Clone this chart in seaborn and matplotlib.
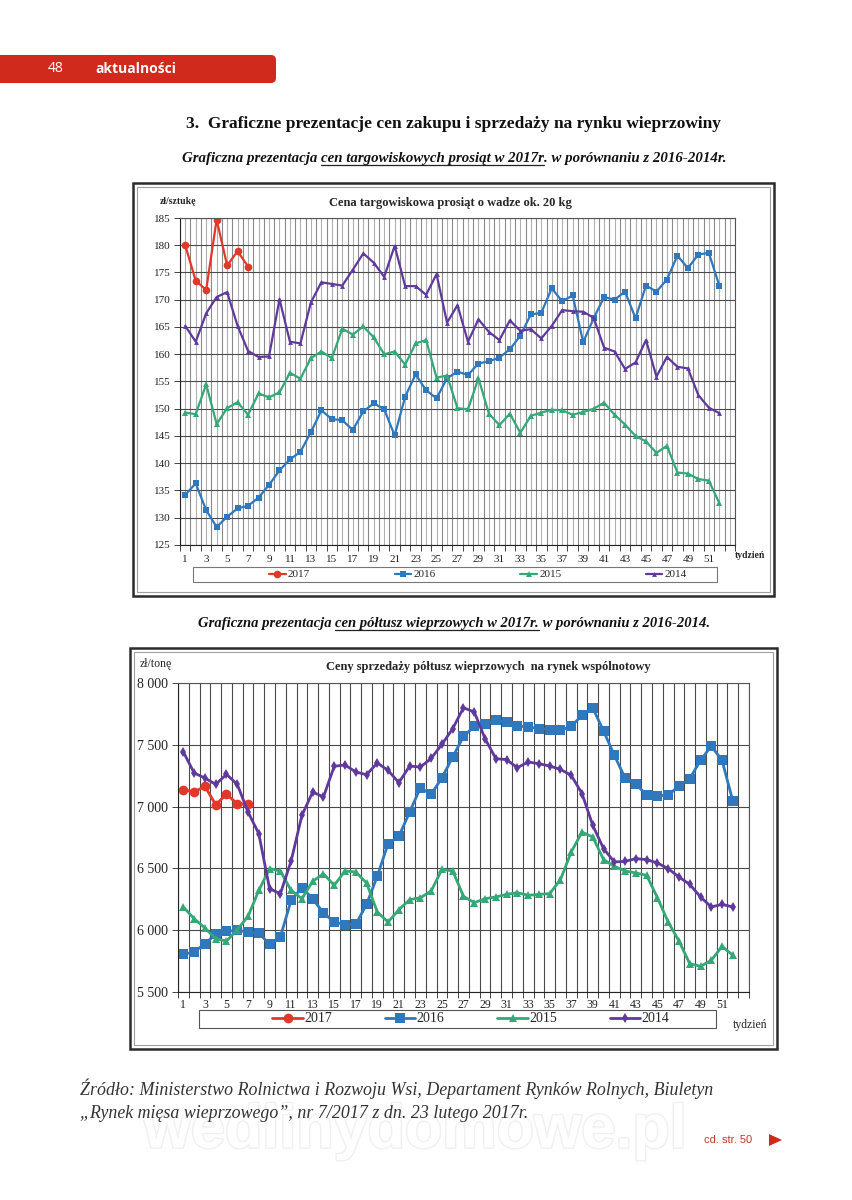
import numpy as np
import matplotlib
matplotlib.use("Agg")
import matplotlib.pyplot as plt
import matplotlib.patches as mpatches
import matplotlib.transforms as mtransforms
from matplotlib.lines import Line2D
from matplotlib import patheffects
import seaborn as sns

# ## data ======================================================================
weeks = list(range(1, 53))
years = ['2017', '2016', '2015', '2014']

# cena targowiskowa prosiąt (zł/sztukę)
pig_2017 = [180.0, 173.5, 171.8, 184.7, 176.3, 178.9, 176.1]
pig_2016 = [134.2, 136.3, 131.4, 128.3, 130.2, 131.7, 132.2, 133.7, 136.0, 138.7,
            140.7, 142.1, 145.7, 149.7, 148.1, 147.9, 146.1, 149.5, 151.0, 149.9,
            145.1, 152.2, 156.3, 153.4, 151.9, 155.6, 156.8, 156.2, 158.3, 158.7,
            159.4, 160.9, 163.4, 167.3, 167.6, 172.1, 169.7, 170.8, 162.2, 166.6,
            170.5, 170.0, 171.5, 166.6, 172.6, 171.5, 173.7, 178.1, 175.8, 178.3,
            178.6, 172.6]
pig_2015 = [149.3, 149.0, 154.5, 147.2, 150.1, 151.2, 148.9, 152.8, 152.1, 153.0,
            156.6, 155.5, 159.3, 160.5, 159.3, 164.7, 163.6, 165.1, 163.1, 160.0,
            160.5, 158.1, 162.0, 162.6, 155.7, 156.1, 150.1, 149.9, 155.6, 149.1,
            147.0, 149.1, 145.6, 148.7, 149.3, 149.8, 149.7, 148.9, 149.4, 150.0,
            151.1, 148.9, 147.1, 145.0, 144.0, 141.9, 143.2, 138.3, 138.1, 137.1,
            136.8, 132.7]
pig_2014 = [165.2, 162.3, 167.5, 170.5, 171.4, 165.2, 160.6, 159.5, 159.6, 170.1,
            162.3, 162.0, 169.5, 173.2, 172.9, 172.6, 175.5, 178.5, 176.8, 174.2,
            179.9, 172.5, 172.5, 170.9, 174.7, 165.8, 169.0, 162.3, 166.4, 164.1,
            162.6, 166.2, 164.3, 164.6, 162.9, 165.2, 168.1, 167.9, 167.8, 166.7,
            161.2, 160.5, 157.3, 158.5, 162.6, 155.9, 159.5, 157.7, 157.4, 152.5,
            150.2, 149.2]

# ceny półtusz wieprzowych (zł/tonę)
half_2017 = [7137, 7118, 7164, 7016, 7099, 7024, 7018]
half_2016 = [5805, 5824, 5891, 5967, 5991, 5999, 5985, 5977, 5886, 5945,
             6242, 6344, 6255, 6139, 6066, 6045, 6047, 6209, 6438, 6700,
             6759, 6956, 7153, 7099, 7234, 7401, 7568, 7649, 7671, 7698,
             7684, 7652, 7644, 7631, 7622, 7617, 7649, 7738, 7798, 7612,
             7415, 7231, 7180, 7096, 7086, 7096, 7164, 7226, 7374, 7490,
             7374, 7045]
half_2015 = [6188, 6093, 6018, 5931, 5912, 6004, 6112, 6322, 6498, 6479,
             6322, 6255, 6395, 6457, 6363, 6479, 6471, 6382, 6147, 6066,
             6166, 6247, 6263, 6317, 6492, 6479, 6274, 6223, 6255, 6269,
             6290, 6304, 6282, 6290, 6296, 6409, 6633, 6794, 6754, 6571,
             6517, 6479, 6463, 6444, 6263, 6066, 5912, 5729, 5708, 5756,
             5869, 5797]
half_2014 = [7442, 7272, 7231, 7180, 7261, 7180, 6956, 6781, 6336, 6295,
             6560, 6929, 7118, 7078, 7326, 7337, 7280, 7258, 7353, 7293,
             7194, 7328, 7320, 7390, 7504, 7631, 7800, 7765, 7550, 7388,
             7380, 7315, 7361, 7347, 7328, 7301, 7253, 7105, 6848, 6660,
             6552, 6557, 6579, 6571, 6544, 6498, 6430, 6371, 6269, 6188,
             6209, 6188]

# ## style =====================================================================
sns.set_theme(style='white')
plt.rcParams['font.family'] = ['Liberation Serif', 'DejaVu Serif']

colors = {'2017': '#E2382A', '2016': '#2F78BE', '2015': '#35A878', '2014': '#5F3A9C'}
W, H = 853, 1200
fig = plt.figure(figsize=(W / 100, H / 100), dpi=100)
fig.patch.set_facecolor('white')
renderer = fig.canvas.get_renderer()


def fx(x):
    return x / W


def fy(y):
    return 1 - y / H


def tw(s, **kw):
    # width of a text in pixels (trailing spaces included)
    t1 = fig.text(0, 0, '|' + s + '|', **kw)
    t2 = fig.text(0, 0, '||', **kw)
    w = t1.get_window_extent(renderer).width - t2.get_window_extent(renderer).width
    t1.remove(); t2.remove()
    return w


def rich_line(parts, cx, y, **kw):
    widths = [tw(s, **kw) for s, _ in parts]
    x = cx - sum(widths) / 2
    for (s, ul), w in zip(parts, widths):
        fig.text(fx(x), fy(y), s, va='baseline', ha='left', **kw)
        if ul:
            fig.add_artist(Line2D([fx(x), fx(x + w)], [fy(y + 2.5), fy(y + 2.5)],
                                  color='#222222', lw=0.9))
        x += w


def frame(x0, y0, x1, y1):
    fig.add_artist(mpatches.Rectangle((fx(x0), fy(y1)), fx(x1 - x0), (y1 - y0) / H,
                                      fill=False, ec='#2b2b2b', lw=1.8))
    fig.add_artist(mpatches.Rectangle((fx(x0 + 4), fy(y1 - 4)), fx(x1 - x0 - 8), (y1 - y0 - 8) / H,
                                      fill=False, ec='#a0a0a0', lw=0.8))


def setup_axes(ax, ylim, ystep, both_grid, label_size, xpad):
    ax.set_xlim(0.5, 53.5)
    ax.set_ylim(*ylim)
    ax.set_yticks(np.arange(ylim[0], ylim[1] + 1, ystep))
    ax.set_xticks(range(1, 54))
    ax.set_xticklabels([str(w) if w % 2 == 1 and w < 52 else '' for w in range(1, 54)])
    ax.set_xticks(np.arange(0.5, 54, 1.0), minor=True)
    ax.tick_params(axis='x', which='major', length=0, labelsize=label_size, pad=xpad, colors='#222222')
    ax.tick_params(axis='x', which='minor', length=4, width=0.7, color='#444444', bottom=True)
    ax.tick_params(axis='y', which='major', length=4, width=0.7, color='#444444', left=True,
                   labelsize=label_size + (1.5 if not both_grid else 0), colors='#222222', pad=3)
    ax.grid(axis='y', which='major', color='#4a4a4a', lw=0.8)
    ax.grid(axis='x', which='minor', color='#4a4a4a' if not both_grid else '#8a8a8a', lw=0.8)
    if both_grid:
        ax.grid(axis='x', which='major', color='#b0b0b0', lw=0.8)
    else:
        ax.grid(axis='x', which='major', visible=False)
    for sp in ax.spines.values():
        sp.set_color('#555555'); sp.set_linewidth(0.8)
    ax.spines['left'].set_color('#222222')
    ax.spines['bottom'].set_color('#222222')
    ax.set_xlabel(''); ax.set_ylabel('')
    ax.set_axisbelow(True)


# ## header ====================================================================
fig.add_artist(mpatches.FancyBboxPatch((-20, H - 83), 296, 28,
                                       boxstyle='round,pad=0,rounding_size=5',
                                       transform=mtransforms.IdentityTransform(),
                                       fc='#CF2A1C', ec='none'))
fig.text(fx(48), fy(69), '48', color='white', fontsize=10, family=['Open Sans', 'DejaVu Sans'],
         va='center', ha='left')
fig.text(fx(95), fy(69), 'aktualności', color='white', fontsize=10, fontweight='bold',
         family=['Open Sans', 'DejaVu Sans'], va='center', ha='left')

fig.text(fx(454), fy(128), '3.  Graficzne prezentacje cen zakupu i sprzedaży na rynku wieprzowiny',
         fontsize=12.5, fontweight='bold', ha='center', va='baseline', color='#111111')

rich_line([('Graficzna prezentacja ', False), ('cen targowiskowych prosiąt w 2017r', True),
           ('. w porównaniu z 2016-2014r.', False)],
          454, 162, fontsize=10.7, fontweight='bold', style='italic', color='#111111')

rich_line([('Graficzna prezentacja ', False), ('cen półtusz wieprzowych w 2017r.', True),
           (' w porównaniu z 2016-2014.', False)],
          454, 627, fontsize=10.5, fontweight='bold', style='italic', color='#111111')

# ## chart 1: prosięta ========================================================
frame(133, 183, 774, 596)
ax1 = fig.add_axes([fx(180), fy(545), fx(555), 327 / H])
pig = {'2017': pig_2017, '2016': pig_2016, '2015': pig_2015, '2014': pig_2014}
mk1 = {'2017': ('o', 5.5), '2016': ('s', 4.0), '2015': ('^', 4.0), '2014': ('^', 3.5)}
for yr in years:
    vals = pig[yr]
    sns.lineplot(x=weeks[:len(vals)], y=vals, ax=ax1, color=colors[yr], lw=1.6,
                 marker=mk1[yr][0], markersize=mk1[yr][1], markeredgewidth=0, legend=False)
setup_axes(ax1, (125, 185), 5, True, 8, 7)
ax1.tick_params(axis='y', labelsize=8)

fig.text(fx(160), fy(201), 'zł/sztukę', fontsize=7, fontweight='bold', va='center', ha='left')
fig.text(fx(450), fy(203), 'Cena targowiskowa prosiąt o wadze ok. 20 kg', fontsize=9,
         fontweight='bold', va='center', ha='center')
fig.text(fx(735), fy(556), 'tydzień', fontsize=7, fontweight='bold', va='center', ha='left')

fig.add_artist(mpatches.Rectangle((fx(193), fy(582)), fx(524), 15 / H, fill=False,
                                  ec='#777777', lw=0.8))
h1 = [Line2D([], [], color=colors[yr], lw=1.6, marker=mk1[yr][0], markersize=mk1[yr][1],
             markeredgewidth=0) for yr in years]
fig.legend(h1, years, loc='center', bbox_to_anchor=(fx(478), fy(574.5)), ncol=4, frameon=False,
           fontsize=8, handlelength=1.5, handletextpad=0.2, columnspacing=7.6)

# ## chart 2: półtusze ========================================================
frame(130, 648, 777, 1049)
ax2 = fig.add_axes([fx(178), fy(992), fx(571), 309 / H])
half = {'2017': half_2017, '2016': half_2016, '2015': half_2015, '2014': half_2014}
mk2 = {'2017': ('o', 7.0), '2016': ('s', 6.5), '2015': ('^', 5.5), '2014': ('d', 5.0)}
for yr in years:
    vals = half[yr]
    sns.lineplot(x=weeks[:len(vals)], y=vals, ax=ax2, color=colors[yr], lw=2.0,
                 marker=mk2[yr][0], markersize=mk2[yr][1], markeredgewidth=0, legend=False)
setup_axes(ax2, (5500, 8000), 500, False, 8.5, 5)
ax2.set_yticklabels([f'{int(v):,}'.replace(',', ' ') for v in ax2.get_yticks()])

fig.text(fx(140), fy(664), 'zł/tonę', fontsize=8.5, va='center', ha='left')
fig.text(fx(488), fy(667), 'Ceny sprzedaży półtusz wieprzowych  na rynek wspólnotowy', fontsize=9,
         fontweight='bold', va='center', ha='center')
fig.text(fx(733), fy(1025), 'tydzień', fontsize=8.5, va='center', ha='left')

fig.add_artist(mpatches.Rectangle((fx(199), fy(1028)), fx(517), 18 / H, fill=False,
                                  ec='#555555', lw=0.8))
h2 = [Line2D([], [], color=colors[yr], lw=2.0, marker=mk2[yr][0], markersize=mk2[yr][1],
             markeredgewidth=0) for yr in years]
fig.legend(h2, years, loc='center', bbox_to_anchor=(fx(471), fy(1019)), ncol=4, frameon=False,
           fontsize=10, handlelength=2.2, handletextpad=0.1, columnspacing=3.8)

# ## footer ====================================================================
fig.text(fx(415), fy(1132), 'wedlinydomowe.pl', fontsize=44, fontweight='bold', color='white',
         family=['Liberation Sans', 'DejaVu Sans'], ha='center', va='center', zorder=0,
         path_effects=[patheffects.withStroke(linewidth=2.0, foreground='#f0f0f0')])
fig.text(fx(80), fy(1095), 'Źródło: Ministerstwo Rolnictwa i Rozwoju Wsi, Departament Rynków Rolnych, Biuletyn',
         fontsize=12.9, style='italic', color='#333333', ha='left', va='baseline')
fig.text(fx(80), fy(1118), '„Rynek mięsa wieprzowego”, nr 7/2017 z dn. 23 lutego 2017r.',
         fontsize=12.9, style='italic', color='#333333', ha='left', va='baseline')
fig.text(fx(752), fy(1140), 'cd. str. 50', fontsize=8, color='#C0392B',
         family=['Liberation Sans Narrow', 'Liberation Sans', 'DejaVu Sans'], ha='right', va='center')
fig.add_artist(mpatches.Polygon([(fx(769), fy(1134)), (fx(769), fy(1146)), (fx(782), fy(1140))],
                                closed=True, fc='#D0281C', ec='none'))

fig.savefig('out.png', dpi=100)
